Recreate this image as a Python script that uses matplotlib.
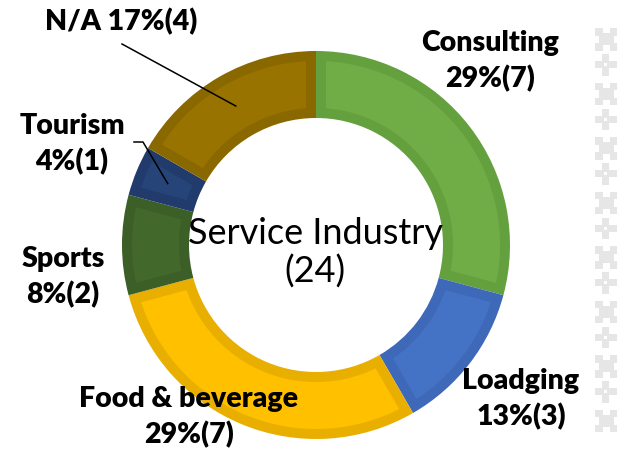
import numpy as np
import matplotlib.pyplot as plt
from matplotlib.patches import Rectangle, Polygon

# data
labels = ['Consulting', 'Loadging', 'Food & beverage', 'Sports', 'Tourism', 'N/A']
counts = [7, 3, 7, 2, 1, 4]
fills = ['#70AD47', '#4472C4', '#FFC000', '#43682B', '#264478', '#997300']
edges = ['#65A03F', '#3E68B8', '#E8AE00', '#3C5E27', '#213C6C', '#8A6800']
total = sum(counts)

W, H = 617, 455
fig = plt.figure(figsize=(W / 100, H / 100), dpi=100)
ax = fig.add_axes([0, 0, 1, 1])

cx, cy, R, ring = 316, H - 245, 194, 67
t = 10  # border thickness in px
wedges, _ = ax.pie(counts, colors=edges, startangle=90, counterclock=False,
                   radius=R, center=(cx, cy),
                   wedgeprops=dict(width=ring, linewidth=0))

# lighter inner fill, inset by t on every side
for w, fc in zip(wedges, fills):
    a1, a2 = np.deg2rad(w.theta1), np.deg2rad(w.theta2)
    ro, ri = R - t, R - ring + t
    do, di = np.arcsin(t / ro), np.arcsin(t / ri)
    ang_o = np.linspace(a1 + do, a2 - do, 60)
    ang_i = np.linspace(a2 - di, a1 + di, 60)
    pts = np.vstack([np.c_[cx + ro * np.cos(ang_o), cy + ro * np.sin(ang_o)],
                     np.c_[cx + ri * np.cos(ang_i), cy + ri * np.sin(ang_i)]])
    ax.add_patch(Polygon(pts, closed=True, facecolor=fc, lw=0))

ax.set_xlim(0, W)
ax.set_ylim(0, H)
ax.set_aspect('equal')
ax.axis('off')

lab_font = dict(family=['Lato', 'DejaVu Sans'], weight='heavy', fontsize=20.5,
                ha='center', va='center', linespacing=1.4)

def pct(i):
    return f'{int(100 * counts[i] / total + 0.5)}%({counts[i]})'

def mid_point(i):
    w = wedges[i]
    a = np.deg2rad((w.theta1 + w.theta2) / 2)
    r = R - ring / 2
    return cx + r * np.cos(a), cy + r * np.sin(a)

# labels (positions in pixel coords, y flipped)
ax.text(490, H - 61, f'{labels[0]}\n{pct(0)}', **lab_font)
ax.text(521, H - 399, f'{labels[1]}\n{pct(1)}', **lab_font)
ax.text(189, H - 417, f'{labels[2]}\n{pct(2)}', **lab_font)
ax.text(63, H - 277, f'{labels[3]}\n{pct(3)}', **lab_font)
ax.text(72, H - 144, f'{labels[4]}\n{pct(4)}', **lab_font)
ax.text(121, H - 22, f'{labels[5]} {pct(5)}', **lab_font)

# leader lines
mx, my = mid_point(5)
ax.plot([122, mx], [H - 44, my], color='black', lw=1.1)
mx, my = mid_point(4)
ax.plot([134, 143, mx], [H - 142, H - 142, my], color='black', lw=1.1)

ax.text(cx - 1, H - 253, 'Service Industry\n(24)', family=['Lato', 'DejaVu Sans'],
        weight='normal', fontsize=26, color='black',
        ha='center', va='center', linespacing=1.15)

# decorative pattern on right edge
gray = '#E6E6E6'
x0 = 595
c = 7.5
for k in range(8):
    y0 = 28 + 54.5 * k
    ax.add_patch(Rectangle((x0, H - y0 - 3 * c), 3 * c, 3 * c, color=gray, lw=0))
    # notches at the middle of each side
    ax.add_patch(Rectangle((x0 + c, H - y0 - 0.7 * c), c, 0.7 * c, color='white', lw=0))
    ax.add_patch(Rectangle((x0 + c, H - y0 - 3 * c), c, 0.7 * c, color='white', lw=0))
    ax.add_patch(Rectangle((x0, H - y0 - 2 * c), 0.5 * c, c, color='white', lw=0))
    ax.add_patch(Rectangle((x0 + 2.5 * c, H - y0 - 2 * c), 0.5 * c, c, color='white', lw=0))
c = 7.2
for k in range(7):
    y0 = 54 + 54.5 * k
    for (i, j) in [(1, 0), (0, 1), (1, 1), (2, 1), (1, 2)]:
        ax.add_patch(Rectangle((x0 + i * c, H - (y0 + (j + 1) * c)), c, c,
                               color=gray, lw=0))
    ax.add_patch(Rectangle((x0 + c + 2, H - (y0 + 2 * c - 2)), c - 4, c - 4,
                           color='white', lw=0))

fig.savefig('out.png', dpi=100)
